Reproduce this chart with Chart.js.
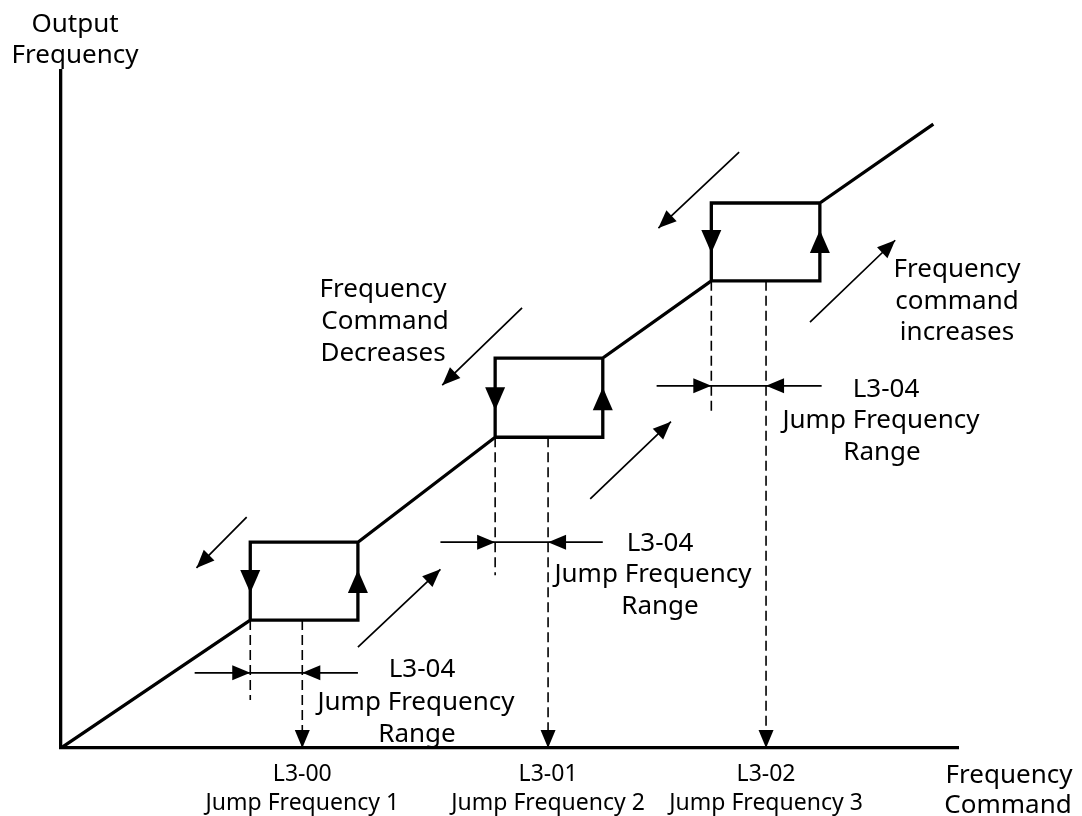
<!DOCTYPE html>
<html>
<head>
<meta charset="utf-8">
<title>Jump Frequency</title>
<script src="https://cdn.jsdelivr.net/npm/chart.js@4.4.1/dist/chart.umd.min.js"></script>
<style>
  html, body { margin: 0; padding: 0; background: #fff; }
</style>
</head>
<body>
<canvas id="jumpChart" width="1082" height="816"></canvas>
<script>
// x = frequency command, y = output frequency, both in % of the drawn axes
const jumpLow = [21.1, 48.4, 72.5];
const jumpFreq = [26.9, 54.3, 78.6];
const jumpHigh = [33.1, 60.4, 84.6];
const outLow = [18.9, 45.9, 69.0];
const outHigh = [30.4, 57.6, 80.5];
const lineEnd = [97.1, 92.0];

const tickTop = ['L3-00', 'L3-01', 'L3-02'];
const tickBottom = ['Jump Frequency 1', 'Jump Frequency 2', 'Jump Frequency 3'];

// arrow heads on the box sides
const downTipY = [22.9, 49.9, 73.1];
const upTipY = [26.3, 53.3, 76.5];

// dashed drop lines from the left box corner
const dashEndY = [7.1, 25.5, 49.6];

// L3-04 range dimension lines
const rangeY = [11.1, 30.4, 53.5];
const rangeStartX = [14.9, 42.3, 66.4];
const rangeEndX = [33.1, 60.4, 84.8];

// diagonal "increase / decrease" arrows
const diagFromX = [20.7, 33.1, 51.4, 59.0, 75.6, 83.5];
const diagFromY = [34.1, 14.9, 65.0, 36.8, 88.0, 62.9];
const diagToX = [15.1, 42.3, 42.5, 68.0, 66.6, 93.0];
const diagToY = [26.6, 26.4, 53.6, 48.2, 76.8, 75.0];

const FONT = '"Noto Sans", "Open Sans", sans-serif';

function segments(list) {
    const pts = [];
    list.forEach(s => {
        pts.push({x: s[0], y: s[1]}, {x: s[2], y: s[3]}, {x: s[2], y: null});
    });
    return pts;
}

// staircase with the three hysteresis boxes
const mainPts = [{x: 0, y: 0}];
for (let i = 0; i < jumpLow.length; i++) {
    if (i > 0) mainPts.push({x: jumpHigh[i - 1], y: outHigh[i - 1]});
    mainPts.push({x: jumpLow[i], y: outLow[i]});
    mainPts.push({x: jumpLow[i], y: outHigh[i]});
    mainPts.push({x: jumpHigh[i], y: outHigh[i]});
    mainPts.push({x: jumpHigh[i], y: outLow[i]});
    mainPts.push({x: jumpLow[i], y: outLow[i]});
    mainPts.push({x: jumpLow[i], y: null});
}
mainPts.push({x: jumpHigh[2], y: outHigh[2]});
mainPts.push({x: lineEnd[0], y: lineEnd[1]});

const thinList = [];
const dashList = [];
const smallHeads = [];
const bigHeads = [];

diagFromX.forEach((fx, i) => {
    thinList.push([fx, diagFromY[i], diagToX[i], diagToY[i]]);
    smallHeads.push({x: diagToX[i], y: diagToY[i], fx: fx, fy: diagFromY[i]});
});

jumpFreq.forEach((f, i) => {
    thinList.push([rangeStartX[i], rangeY[i], rangeEndX[i], rangeY[i]]);
    smallHeads.push({x: jumpLow[i], y: rangeY[i], fx: rangeStartX[i], fy: rangeY[i]});
    smallHeads.push({x: f, y: rangeY[i], fx: rangeEndX[i], fy: rangeY[i]});

    dashList.push([jumpLow[i], outLow[i], jumpLow[i], dashEndY[i]]);
    dashList.push([f, outLow[i], f, 0]);
    smallHeads.push({x: f, y: 0, fx: f, fy: outLow[i]});

    bigHeads.push({x: jumpLow[i], y: downTipY[i], fx: jumpLow[i], fy: outHigh[i]});
    bigHeads.push({x: jumpHigh[i], y: upTipY[i], fx: jumpHigh[i], fy: outLow[i]});
});

const texts = [
    ['Output', 75, 32],
    ['Frequency', 75, 63],
    ['Frequency', 1009, 783],
    ['Command', 1008, 813],
    ['Frequency', 383, 297],
    ['Command', 385, 329],
    ['Decreases', 383, 361],
    ['Frequency', 957, 277],
    ['command', 957, 309],
    ['increases', 957, 340],
    ['L3-04', 422, 677],
    ['Jump Frequency', 416, 710],
    ['Range', 417, 742],
    ['L3-04', 660, 551],
    ['Jump Frequency', 653, 582],
    ['Range', 660, 614],
    ['L3-04', 886, 397],
    ['Jump Frequency', 881, 428],
    ['Range', 882, 460]
];

// filled arrow heads at the tip points of the datasets flagged with headSize
const arrowPlugin = {
    id: 'arrowHeads',
    afterDatasetsDraw(chart) {
        const c = chart.ctx;
        const xs = chart.scales.x;
        const ys = chart.scales.y;
        c.save();
        c.fillStyle = '#000';
        chart.data.datasets.forEach((ds, di) => {
            if (!ds.headSize) return;
            const meta = chart.getDatasetMeta(di);
            meta.data.forEach((el, j) => {
                const p = ds.data[j];
                const a = Math.atan2(el.y - ys.getPixelForValue(p.fy), el.x - xs.getPixelForValue(p.fx));
                const len = ds.headSize[1];
                const half = ds.headSize[0] / 2;
                const bx = el.x - Math.cos(a) * len;
                const by = el.y - Math.sin(a) * len;
                c.beginPath();
                c.moveTo(el.x, el.y);
                c.lineTo(bx - Math.sin(a) * half, by + Math.cos(a) * half);
                c.lineTo(bx + Math.sin(a) * half, by - Math.cos(a) * half);
                c.closePath();
                c.fill();
            });
        });
        c.restore();
    }
};

const textPlugin = {
    id: 'diagramText',
    afterDraw(chart) {
        const c = chart.ctx;
        c.save();
        c.fillStyle = '#000';
        c.font = '26px ' + FONT;
        c.textAlign = 'center';
        c.textBaseline = 'alphabetic';
        texts.forEach(t => c.fillText(t[0], t[1], t[2]));
        c.restore();
    }
};

function draw() {
    new Chart(document.getElementById('jumpChart'), {
        type: 'scatter',
        data: {
            datasets: [
                {
                    data: bigHeads,
                    headSize: [20, 23],
                    pointRadius: 0
                },
                {
                    data: smallHeads,
                    headSize: [15, 18],
                    pointRadius: 0
                },
                {
                    data: mainPts,
                    showLine: true,
                    borderColor: '#000',
                    borderWidth: 3.3,
                    borderJoinStyle: 'miter',
                    borderCapStyle: 'square',
                    pointRadius: 0
                },
                {
                    data: segments(thinList),
                    showLine: true,
                    borderColor: '#000',
                    borderWidth: 1.7,
                    pointRadius: 0
                },
                {
                    data: segments(dashList),
                    showLine: true,
                    borderColor: '#000',
                    borderWidth: 1.6,
                    borderDash: [10, 5],
                    pointRadius: 0
                }
            ]
        },
        options: {
            responsive: false,
            animation: false,
            devicePixelRatio: 1,
            events: [],
            layout: {
                padding: {left: 61, top: 71, right: 124, bottom: 0}
            },
            plugins: {
                legend: {display: false},
                tooltip: {enabled: false}
            },
            scales: {
                x: {
                    type: 'linear',
                    min: 0,
                    max: 100,
                    grid: {display: false, drawTicks: false},
                    border: {display: true, color: '#000', width: 3.3},
                    afterBuildTicks: scale => {
                        scale.ticks = jumpFreq.map(v => ({value: v}));
                    },
                    afterFit: scale => {
                        scale.height = 68;
                    },
                    ticks: {
                        autoSkip: false,
                        maxRotation: 0,
                        padding: 12,
                        color: '#000',
                        font: {family: FONT, size: 23, lineHeight: 1.25},
                        callback: (value, index) => [tickTop[index], tickBottom[index]]
                    }
                },
                y: {
                    type: 'linear',
                    min: 0,
                    max: 100,
                    grid: {display: false, drawTicks: false},
                    border: {display: true, color: '#000', width: 3.3},
                    ticks: {display: false},
                    afterFit: scale => {
                        scale.width = 0;
                    }
                }
            }
        },
        plugins: [arrowPlugin, textPlugin]
    });
}

if (document.fonts && document.fonts.load) {
    document.fonts.load('26px "Noto Sans"').then(draw, draw);
} else {
    draw();
}
</script>
</body>
</html>
